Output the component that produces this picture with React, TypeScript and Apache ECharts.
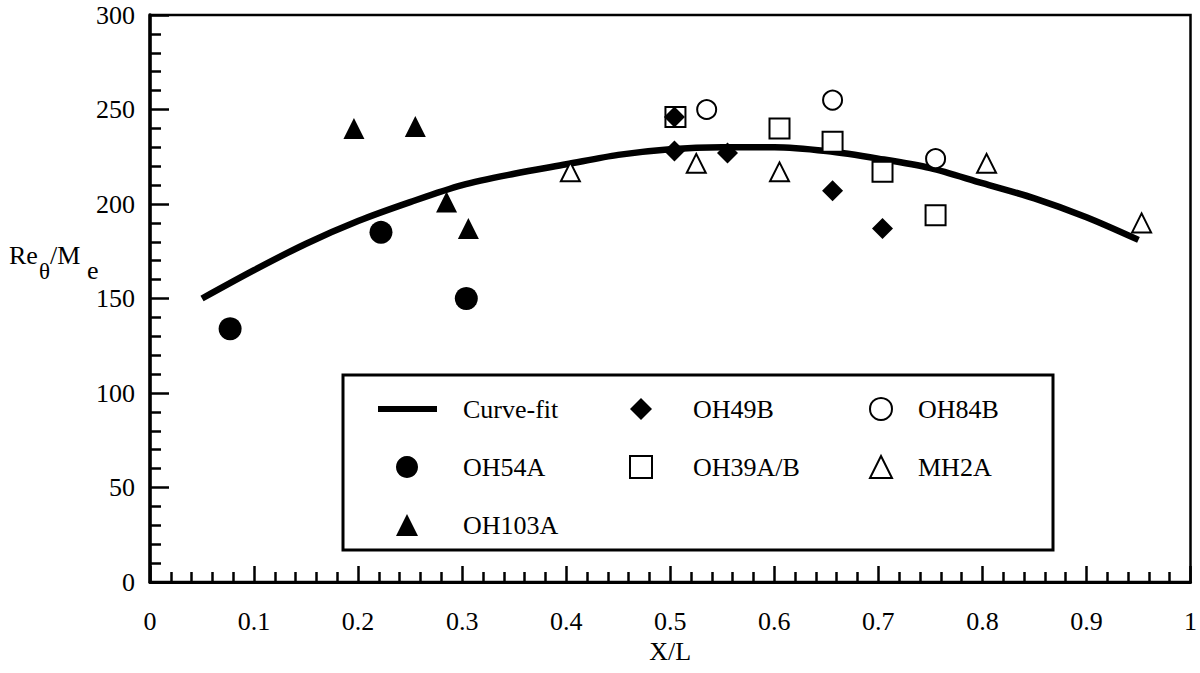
import React, { useEffect, useRef } from "react";
import * as echarts from "echarts";

const FONT = "'Liberation Serif', 'Times New Roman', serif";

// Curve-fit (X/L, Re_theta/M_e)
const curveX = [0.05, 0.1, 0.15, 0.2, 0.25, 0.3, 0.35, 0.4, 0.45, 0.5, 0.55, 0.6, 0.65, 0.7, 0.75, 0.8, 0.85, 0.9, 0.95];
const curveY = [150, 165, 179, 191, 201, 210, 216, 221, 226, 229, 230, 230, 228, 224, 219, 211, 203, 193, 181];

const oh54aX = [0.077, 0.222, 0.304];
const oh54aY = [134, 185, 150];

const oh103aX = [0.196, 0.255, 0.285, 0.306];
const oh103aY = [240, 241, 201, 187];

const oh49bX = [0.504, 0.504, 0.555, 0.656, 0.704];
const oh49bY = [246, 228, 227, 207, 187];

const oh39abX = [0.505, 0.605, 0.656, 0.704, 0.755];
const oh39abY = [246, 240, 233, 217, 194];

const oh84bX = [0.535, 0.656, 0.755];
const oh84bY = [250, 255, 224];

const mh2aX = [0.404, 0.525, 0.605, 0.804, 0.953];
const mh2aY = [217, 221.5, 217, 221.5, 190];

const legendCurve = ["Curve-fit"];
const legendCol1 = ["OH54A", "OH103A"];
const legendCol2 = ["OH49B", "OH39A/B"];
const legendCol3 = ["OH84B", "MH2A"];

const zip = (xs: number[], ys: number[]) => xs.map((x, i) => [x, ys[i]]);

const filled = { color: "#000", opacity: 1 };
const open = { color: "#fff", borderColor: "#000", borderWidth: 2, opacity: 1 };

export default function App() {
  const ref = useRef<HTMLDivElement>(null);

  useEffect(() => {
    document.body.style.margin = "0";
    const chart = echarts.init(ref.current!, null, { renderer: "svg" });
    const FS = 26;
    const labelStyle = { color: "#000", fontSize: FS, fontFamily: FONT };
    const ROW = 58;
    const TOP = 396;
    const legendBase = {
      orient: "vertical",
      padding: 0,
      itemHeight: 22,
      itemGap: ROW - FS,
      selectedMode: false,
      inactiveColor: "#000",
      z: 5,
    };
    const option: any = {
      animation: false,
      backgroundColor: "#fff",
      textStyle: { fontFamily: FONT, color: "#000" },
      grid: {
        left: 150,
        right: 4,
        top: 15,
        bottom: 91,
        show: true,
        borderColor: "#000",
        borderWidth: 2.5,
        backgroundColor: "transparent",
      },
      xAxis: {
        type: "value",
        min: 0,
        max: 1,
        interval: 0.1,
        axisLine: { lineStyle: { color: "#000", width: 3 } },
        axisTick: { inside: true, length: 16, lineStyle: { color: "#000", width: 2.5 } },
        minorTick: { show: true, splitNumber: 5, length: 10, lineStyle: { color: "#000", width: 2.5 } },
        splitLine: { show: false },
        minorSplitLine: { show: false },
        axisLabel: { ...labelStyle, margin: 26 },
        name: "X/L",
        nameLocation: "middle",
        nameGap: 51,
        nameTextStyle: labelStyle,
      },
      yAxis: {
        type: "value",
        min: 0,
        max: 300,
        interval: 50,
        axisLine: { lineStyle: { color: "#000", width: 3.5 } },
        axisTick: { inside: true, length: 19, lineStyle: { color: "#000", width: 2.5 } },
        minorTick: { show: true, splitNumber: 5, length: 11, lineStyle: { color: "#000", width: 2.5 } },
        splitLine: { show: false },
        minorSplitLine: { show: false },
        axisLabel: { ...labelStyle, margin: 15 },
      },
      legend: [
        {
          ...legendBase,
          left: 378,
          top: TOP,
          itemWidth: 59,
          data: [
            {
              name: legendCurve[0],
              icon: "path://M0,0 L59,0 L59,6 L0,6 Z",
              itemStyle: { color: "#000" },
            },
          ],
          textStyle: { ...labelStyle, padding: [0, 0, 0, 21] },
        },
        {
          ...legendBase,
          left: 396,
          top: TOP + ROW,
          itemWidth: 22,
          data: [
            { name: legendCol1[0], itemStyle: filled },
            { name: legendCol1[1], itemStyle: filled },
          ],
          textStyle: { ...labelStyle, padding: [0, 0, 0, 40] },
        },
        {
          ...legendBase,
          left: 629,
          top: TOP,
          itemWidth: 22,
          data: [
            { name: legendCol2[0], itemStyle: filled },
            { name: legendCol2[1], itemStyle: open },
          ],
          textStyle: { ...labelStyle, padding: [0, 0, 0, 36] },
        },
        {
          ...legendBase,
          left: 869,
          top: TOP,
          itemWidth: 22,
          data: [
            { name: legendCol3[0], itemStyle: open },
            { name: legendCol3[1], itemStyle: open },
          ],
          textStyle: { ...labelStyle, padding: [0, 0, 0, 21] },
        },
      ],
      graphic: [
        {
          type: "rect",
          z: 3,
          shape: { x: 343, y: 375, width: 710, height: 175 },
          style: { fill: "#fff", stroke: "#000", lineWidth: 3 },
        },
        { type: "text", left: 9, top: 242, style: { text: "Re", font: `26px ${FONT}`, fill: "#000" } },
        { type: "text", left: 39, top: 260, style: { text: "θ", font: `23px ${FONT}`, fill: "#000" } },
        { type: "text", left: 50, top: 242, style: { text: "/M", font: `26px ${FONT}`, fill: "#000" } },
        { type: "text", left: 87, top: 257, style: { text: "e", font: `26px ${FONT}`, fill: "#000" } },
      ],
      series: [
        {
          name: "Curve-fit",
          type: "line",
          data: zip(curveX, curveY),
          symbol: "none",
          smooth: 0.3,
          lineStyle: { color: "#000", width: 6.5 },
          itemStyle: { color: "#000" },
          z: 1,
        },
        {
          name: "OH54A",
          type: "scatter",
          data: zip(oh54aX, oh54aY),
          symbol: "circle",
          symbolSize: 23,
          itemStyle: filled,
        },
        {
          name: "OH103A",
          type: "scatter",
          data: zip(oh103aX, oh103aY),
          symbol: "triangle",
          symbolSize: 21,
          itemStyle: filled,
        },
        {
          name: "OH39A/B",
          type: "scatter",
          data: zip(oh39abX, oh39abY),
          symbol: "rect",
          symbolSize: 20,
          itemStyle: open,
        },
        {
          name: "OH49B",
          type: "scatter",
          data: zip(oh49bX, oh49bY),
          symbol: "diamond",
          symbolSize: 21,
          itemStyle: filled,
        },
        {
          name: "OH84B",
          type: "scatter",
          data: zip(oh84bX, oh84bY),
          symbol: "circle",
          symbolSize: 19,
          itemStyle: open,
        },
        {
          name: "MH2A",
          type: "scatter",
          data: zip(mh2aX, mh2aY),
          symbol: "triangle",
          symbolSize: 19,
          itemStyle: open,
        },
      ],
    };
    chart.setOption(option);
    return () => chart.dispose();
  }, []);

  return (
    <div
      ref={ref}
      style={{ position: "fixed", left: 0, top: 0, width: 1200, height: 673 }}
    />
  );
}
